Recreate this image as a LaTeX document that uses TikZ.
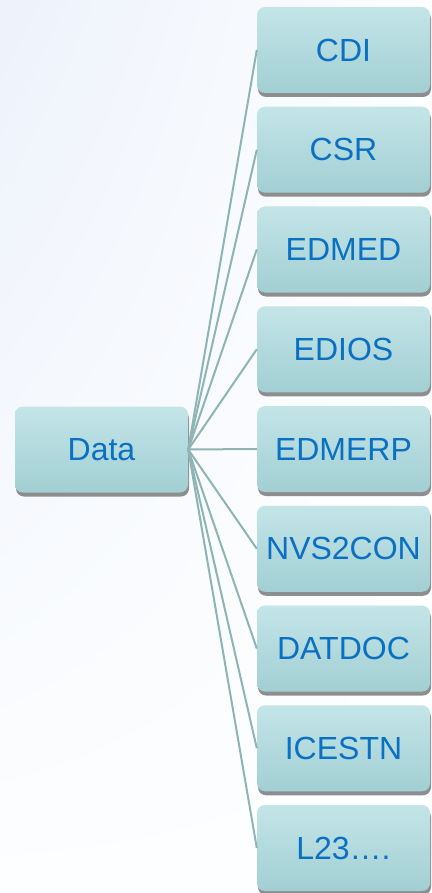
\documentclass[tikz,border=0pt]{standalone}
\usepackage{fontspec}
\setmainfont{Liberation Sans}
\usetikzlibrary{shadows,shadings}
\definecolor{txtblue}{HTML}{0A70C2}
\definecolor{linecol}{HTML}{8EB4B4}
\definecolor{boxtop}{HTML}{C3E5E8}
\definecolor{boxbot}{HTML}{A2CFD3}
\definecolor{bgA}{HTML}{EDF2FB}
\definecolor{bgB}{HTML}{FDFEFF}
\begin{document}
\begin{tikzpicture}[x=1pt,y=-1pt,
  box/.style={rounded corners=8pt, minimum width=173pt, minimum height=86pt,
    top color=boxtop, bottom color=boxbot, draw=none,
    text=txtblue, font=\fontsize{32}{36}\selectfont,
    drop shadow={shadow xshift=1pt, shadow yshift=-4pt, fill=black!55, opacity=0.8}},
  conn/.style={draw=linecol, line width=2pt}]
\useasboundingbox (0,0) rectangle (431,893);
\shade[upper left=bgA, upper right=bgB, lower left=bgB, lower right=bgB] (0,0) rectangle (431,893);
\node[box] (data) at (101.5,449.5) {Data};
\foreach \n/\t [count=\i from 0] in {a/CDI,b/CSR,c/EDMED,d/EDIOS,e/EDMERP,f/NVS2CON,g/DATDOC,h/ICESTN,k/L23….}{
  \node[box] (\n) at (343.5,{50+99.75*\i}) {\t};
}
\foreach \n in {a,b,c,d,e,f,g,h,k}{
  \draw[conn] (data.east) -- (\n.west);
}
\end{tikzpicture}
\end{document}
